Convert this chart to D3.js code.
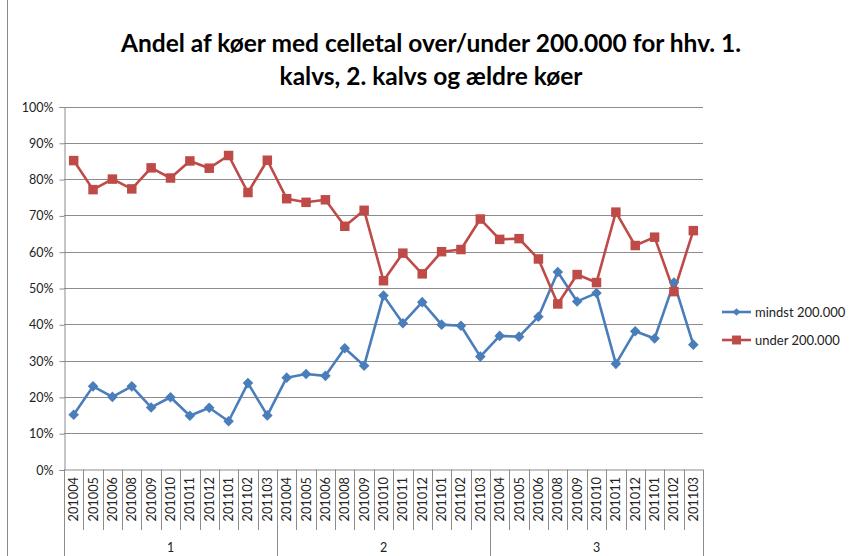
<!DOCTYPE html>
<html>
<head>
<meta charset="utf-8">
<script src="https://cdn.jsdelivr.net/npm/d3@7"></script>
<style>
  body { margin: 0; background: #fff; }
  text { font-family: Lato, "Open Sans", sans-serif; }
</style>
</head>
<body>
<div class="canvas"></div>
<script>
// data
var groups = ["1", "2", "3"];
var months = ["201004", "201005", "201006", "201008", "201009", "201010", "201011", "201012", "201101", "201102", "201103"];
var mindst = [15.1, 22.9, 20.0, 22.9, 17.1, 19.9, 14.8, 17.0, 13.3, 23.8, 14.9,
              25.3, 26.3, 25.8, 33.4, 28.6, 47.9, 40.3, 46.1, 39.9, 39.6, 31.1,
              36.8, 36.6, 42.1, 54.4, 46.3, 48.6, 29.1, 38.1, 36.1, 51.5, 34.4];
var under = [85.1, 77.1, 80.0, 77.3, 83.1, 80.3, 85.0, 83.0, 86.5, 76.3, 85.2,
             74.6, 73.6, 74.3, 67.0, 71.4, 52.0, 59.6, 53.9, 60.0, 60.6, 69.0,
             63.4, 63.6, 58.0, 45.6, 53.7, 51.5, 70.9, 61.7, 64.0, 49.0, 65.8];
var yTicks = [0, 10, 20, 30, 40, 50, 60, 70, 80, 90, 100];
var series = [
  { name: "mindst 200.000", values: mindst, color: "#4a7ebb", marker: "diamond" },
  { name: "under 200.000", values: under, color: "#be4b48", marker: "square" }
];

var cats = [];
groups.forEach(function (g) {
  months.forEach(function (m) { cats.push(g + "|" + m); });
});

var W = 854, H = 556;
var svg = d3.select(".canvas").append("svg").attr("width", W).attr("height", H);

var plot = { left: 64, right: 703, top: 106.5, bottom: 469.5 };

var x = d3.scaleBand().domain(cats).range([plot.left, plot.right]);
var y = d3.scaleLinear().domain([0, 100]).range([plot.bottom, plot.top]);

// chart border
svg.append("rect")
  .attr("x", 7.5).attr("y", -2).attr("width", W).attr("height", H + 4)
  .attr("fill", "none").attr("stroke", "#8a8a8a").attr("stroke-width", 1);

// title
var title = svg.append("text")
  .attr("text-anchor", "middle")
  .attr("font-size", "24.5px")
  .attr("font-weight", "bold")
  .attr("fill", "#000");
title.append("tspan").attr("x", 431).attr("y", 52).text("Andel af køer med celletal over/under 200.000 for hhv. 1.");
title.append("tspan").attr("x", 431).attr("y", 85).text("kalvs, 2. kalvs og ældre køer");

// gridlines
svg.append("g")
  .selectAll("line")
  .data(yTicks.filter(function (d) { return d > 0; }))
  .join("line")
  .attr("x1", plot.left).attr("x2", plot.right)
  .attr("y1", function (d) { return Math.round(y(d)) + 0.5; })
  .attr("y2", function (d) { return Math.round(y(d)) + 0.5; })
  .attr("stroke", "#8c8c8c").attr("stroke-width", 1);

// y axis
var yAxis = svg.append("g")
  .attr("transform", "translate(" + (plot.left + 0.5) + ",0.5)")
  .call(d3.axisLeft(y).tickValues(yTicks).tickFormat(function (d) { return d + "%"; }).tickSize(5).tickPadding(6));
yAxis.select(".domain").attr("stroke", "#8c8c8c");
yAxis.selectAll(".tick line").attr("stroke", "#8c8c8c");
yAxis.selectAll("text").attr("font-size", "12.5px").attr("fill", "#222")
  .attr("font-family", "Lato, sans-serif");

// x axis baseline
svg.append("line")
  .attr("x1", plot.left).attr("x2", plot.right)
  .attr("y1", plot.bottom + 0.5).attr("y2", plot.bottom + 0.5)
  .attr("stroke", "#8c8c8c");

// category separators
var xg = svg.append("g");
cats.forEach(function (c, i) {
  var xx = Math.round(x(c)) + 0.5;
  var isGroup = (i % months.length === 0);
  xg.append("line")
    .attr("x1", xx).attr("x2", xx)
    .attr("y1", plot.bottom).attr("y2", isGroup ? H : 530)
    .attr("stroke", "#8c8c8c");
});
xg.append("line")
  .attr("x1", Math.round(plot.right) + 0.5).attr("x2", Math.round(plot.right) + 0.5)
  .attr("y1", plot.bottom).attr("y2", H)
  .attr("stroke", "#8c8c8c");

// month labels (rotated)
xg.selectAll("text.month")
  .data(cats)
  .join("text")
  .attr("class", "month")
  .attr("transform", function (c) {
    return "translate(" + (x(c) + x.bandwidth() / 2 + 4.5) + "," + 477 + ") rotate(-90)";
  })
  .attr("text-anchor", "end")
  .attr("font-size", "12.8px")
  .attr("fill", "#222")
  .text(function (c) { return c.split("|")[1]; });

// group labels
groups.forEach(function (g) {
  var x0 = x(g + "|" + months[0]);
  var x1 = x(g + "|" + months[months.length - 1]) + x.bandwidth();
  xg.append("text")
    .attr("x", (x0 + x1) / 2).attr("y", 552)
    .attr("text-anchor", "middle")
    .attr("font-size", "12.5px")
    .attr("fill", "#222")
    .text(g);
});

// lines and markers
var line = d3.line()
  .x(function (d, i) { return x(cats[i]) + x.bandwidth() / 2; })
  .y(function (d) { return y(d); });

series.forEach(function (s) {
  svg.append("path")
    .datum(s.values)
    .attr("d", line)
    .attr("fill", "none")
    .attr("stroke", s.color)
    .attr("stroke-width", 2.6)
    .attr("stroke-linejoin", "round");
});
series.forEach(function (s) {
  svg.append("g")
    .selectAll("path")
    .data(s.values)
    .join("path")
    .attr("d", s.marker === "diamond" ? d3.symbol().type(d3.symbolSquare).size(56) : d3.symbol().type(d3.symbolSquare).size(90))
    .attr("transform", function (d, i) {
      var t = "translate(" + (x(cats[i]) + x.bandwidth() / 2) + "," + y(d) + ")";
      return s.marker === "diamond" ? t + " rotate(45)" : t;
    })
    .attr("fill", s.color);
});

// legend
var legend = svg.append("g");
series.forEach(function (s, i) {
  var ly = 312 + i * 28;
  legend.append("line")
    .attr("x1", 722).attr("x2", 751).attr("y1", ly).attr("y2", ly)
    .attr("stroke", s.color).attr("stroke-width", 2.6);
  legend.append("path")
    .attr("d", s.marker === "diamond" ? d3.symbol().type(d3.symbolSquare).size(30)() : d3.symbol().type(d3.symbolSquare).size(80)())
    .attr("transform", "translate(736.5," + ly + ")" + (s.marker === "diamond" ? " rotate(45)" : ""))
    .attr("fill", s.color);
  legend.append("text")
    .attr("x", 755).attr("y", ly + 4.5)
    .attr("font-size", "13px")
    .attr("fill", "#222")
    .text(s.name);
});
</script>
</body>
</html>
